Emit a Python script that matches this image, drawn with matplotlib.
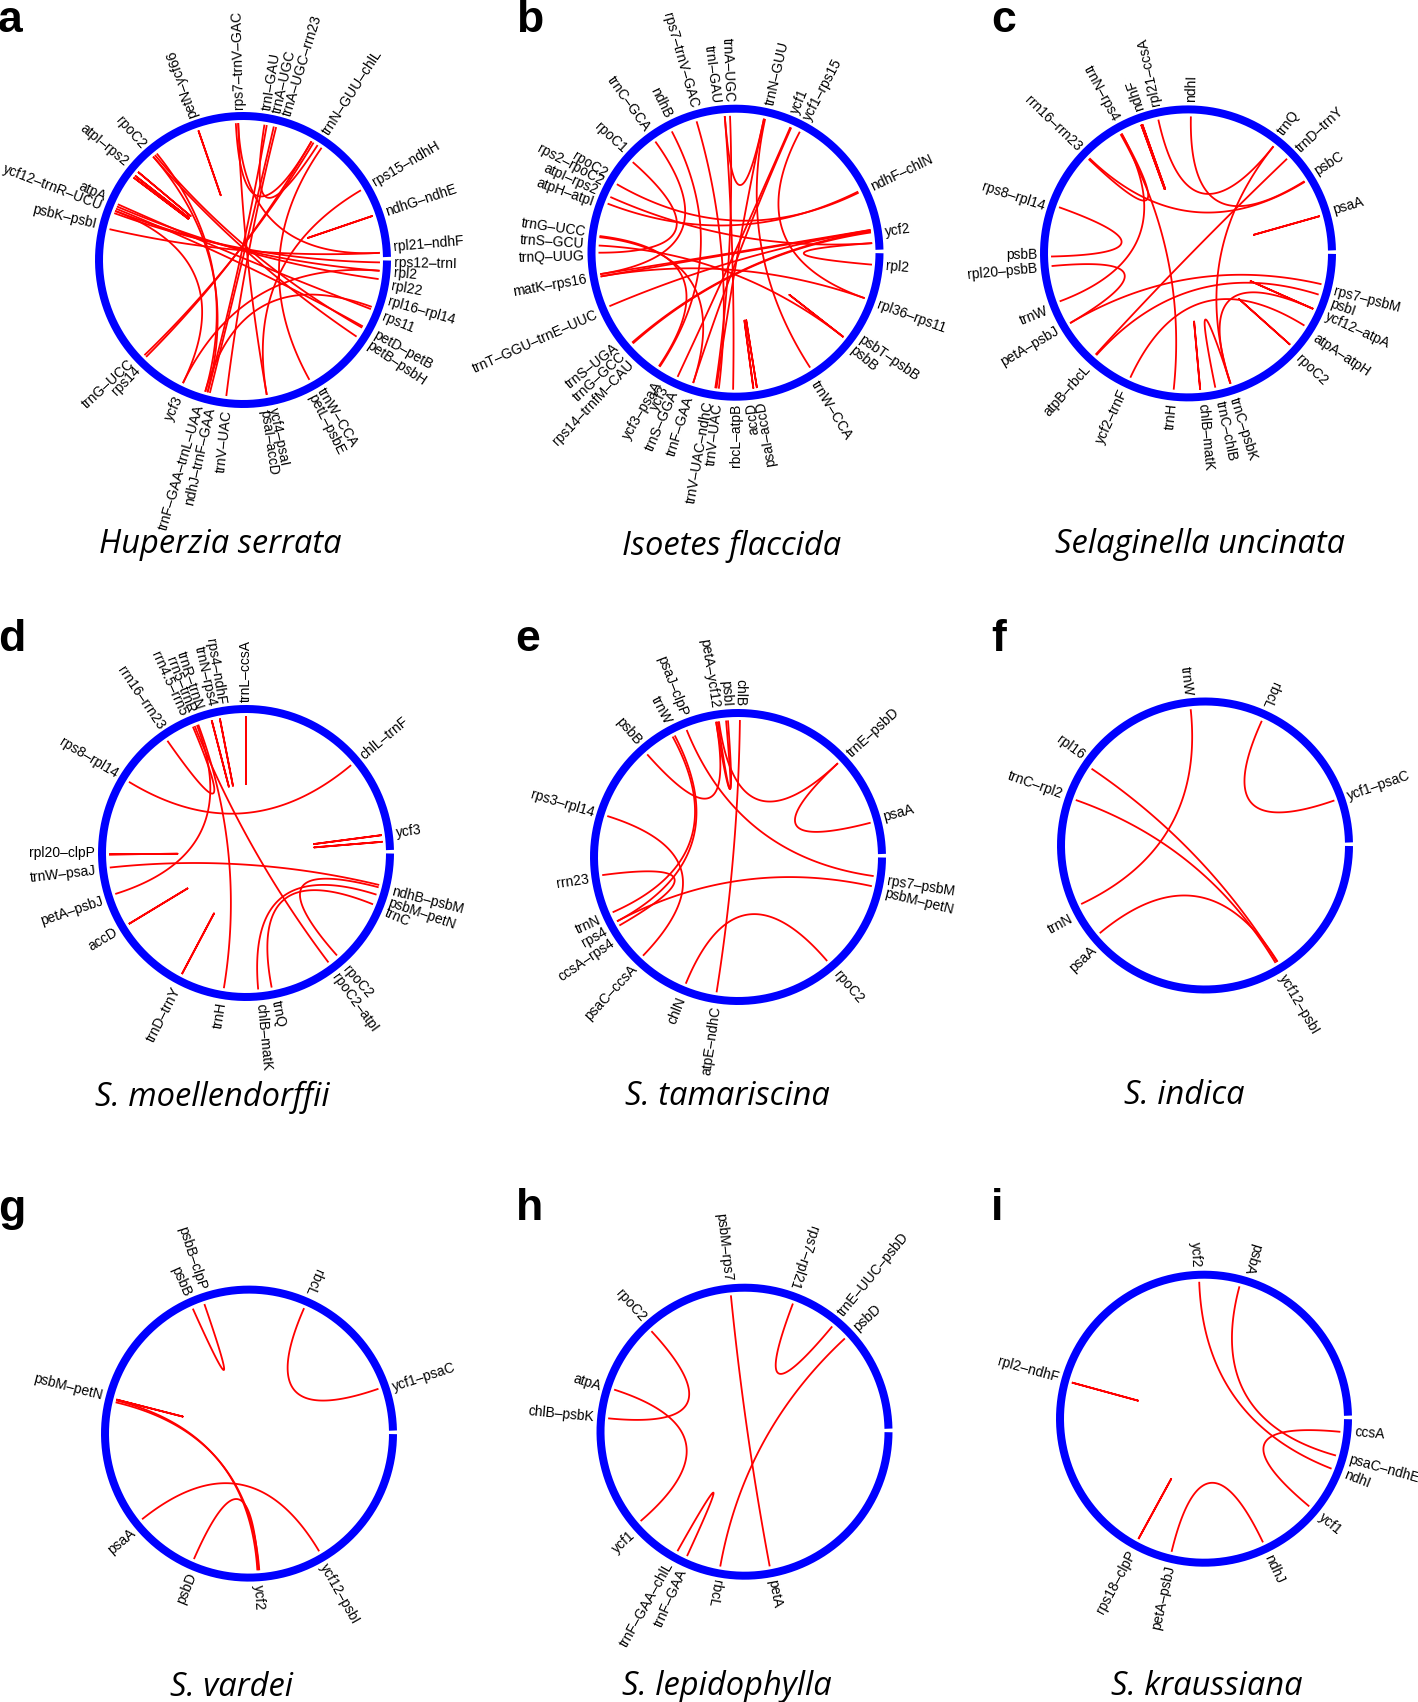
import numpy as np
import matplotlib
matplotlib.use("Agg")
import matplotlib.pyplot as plt

W, H, DPI = 1418, 1702, 100

# ---------------- data ----------------
TITLES = ["Huperzia serrata", "Isoetes flaccida", "Selaginella uncinata",
          "S. moellendorffii", "S. tamariscina", "S. indica",
          "S. vardei", "S. lepidophylla", "S. kraussiana"]
PANEL_LETTERS = ["a", "b", "c", "d", "e", "f", "g", "h", "i"]

# label names and their angular positions (degrees, counter-clockwise from 3 o'clock)
A_LABELS = ["petN–ycf66", "rps7–trnV–GAC", "trnI–GAU", "trnA–UGC", "trnA–UGC–rrn23",
            "trnN–GUU–chlL", "rps15–ndhH", "ndhG–ndhE", "rpl21–ndhF", "rps12–trnI",
            "rpl2", "rpl22", "rpl16–rpl14", "rps11", "petD–petB", "petB–psbH",
            "trnW–CCA", "petL–psbE", "ycf4–psaI", "psaI–accD", "trnV–UAC",
            "ndhJ–trnF–GAA", "trnF–GAA–trnL–UAA", "ycf3", "rps14", "trnG–UCC",
            "psbK–psbI", "ycf12–trnR–UCU", "atpA", "atpI–rps2", "rpoC2"]
A_DEG = [109, 91.5, 81, 77, 73, 57, 30.5, 18.5, 5, -1, -5, -10, -16, -22, -29.5, -34,
         -59, -63, -78.5, -82, -96, -102.5, -106.5, -115, -134, -137.5,
         166.5, 159, 155.5, 140.5, 131.5]
A_LINKS = [(109, 109), (93, 60), (92, 3), (81, 57), (80, -105), (77, -104), (76, -97),
           (60, -135), (59, -136), (55, -61), (30.6, -80), (18.8, 18.8),
           (167, 3), (160, -1), (159, -4.5), (157, -8), (156, -21), (158, -29),
           (159, -116), (130, -29.6), (131, -34), (131, -105), (129, -106),
           (140, 140), (142, 142), (143, 143), (-116, -4.5), (-106, -20), (92, -80)]

B_LABELS = ["trnN–GUU", "ycf1", "ycf1–rps15", "ndhF–chlN", "ycf2", "rpl2", "rpl36–rps11",
            "psbT–psbB", "psbB", "trnW–CCA", "psaI–accD", "accD", "rbcL–atpB", "trnV–UAC",
            "trnV–UAC–ndhC", "trnF–GAA", "trnS–GGA", "ycf3", "ycf3–psaA",
            "rps14–trnfM–CAU", "trnG–GCC", "trnS–UGA", "trnT–GGU–trnE–UUC", "matK–rps16",
            "trnQ–UUG", "trnS–GCU", "trnG–UCC", "atpH–atpI", "atpI–rps2", "rps2–rpoC2",
            "rpoC2", "rpoC1", "trnC–GCA", "ndhB", "rps7–trnV–GAC", "trnI–GAU", "trnA–UGC"]
B_DEG = [77, 67, 62, 25.5, 8, -5, -20, -34.5, -39.5, -58.5, -80.5, -84, -90, -96.5,
         -100, -107.5, -113.5, -117.5, -120.5, -133.5, -137.5, -141.5, -156, -170,
         -178.5, 176.5, 172, 160.5, 156, 152, 149, 137.5, 125.5, 116.5, 106, 97.2, 92.2]
B_LINKS = [(26, 150), (26.5, 159), (9.6, -171), (9.2, -170), (9, -139), (8.5, -138.5),
           (4, -5), (62, -19.4), (66.4, -115), (66, -108), (94.5, 78), (78, -98),
           (77.5, -57), (94.5, -91), (92.3, -98.5), (106.5, -97), (125.8, -171),
           (177, -38), (173, -124), (173.5, -108), (-157, 9.5), (-38, -38), (-81, -81),
           (-82.5, -82.5), (138.6, 180), (156, 4), (-170, -19.4), (117.7, -123.6)]

C_LABELS = ["ndhI", "rpl21–ccsA", "ndhF", "trnN–rps4", "rrn16–rrn23", "rps8–rpl14", "psbB",
            "rpl20–psbB", "trnW", "petA–psbJ", "atpB–rbcL", "ycf2–trnF", "trnH", "chlB–matK",
            "trnC–chlB", "trnC–psbK", "rpoC2", "atpA–atpH", "ycf12–atpA", "psbI",
            "rps7–psbM", "psaA", "psbC", "trnD–trnY", "trnQ"]
C_DEG = [89, 102, 108.5, 118.5, 136, 162, 180.5, -174.5, -158, -149.5, -131.5, -115, -96,
         -84.5, -78, -72.5, -43.5, -33.5, -24.5, -19.5, -14.5, 16.5, 32.5, 43, 52.5]
C_LINKS = [(88.8, 31.8), (136, 31.5), (136.5, 119), (119, -159.5), (119.5, -96),
           (109.5, 109.5), (110, 110), (102.5, 51.4), (51.4, -71.9), (43.7, -132.4),
           (15.8, 15.8), (160.3, 181.3), (-174.7, -149.4), (-149.4, -13), (-132, -17.5),
           (-114.9, -31.8), (-84.9, -84.9), (-78.5, -71.9), (-72, -23.9), (-41.8, -41.8),
           (-23.9, -23.9)]

D_LABELS = ["trnL–ccsA", "rps4–ndhF", "trnN–rps4", "trnR–trnN", "rrn5–trnR", "rrn4.5–rrn5",
            "rrn16–rrn23", "rps8–rpl14", "rpl20–clpP", "trnW–psaJ", "petA–psbJ", "accD",
            "trnD–trnY", "trnH", "chlB–matK", "trnQ", "rpoC2", "rpoC2–atpI", "trnC",
            "psbM–petN", "ndhB–psbM", "ycf3", "chlL–trnF"]
D_DEG = [90, 99.5, 102.8, 108, 111.4, 114.6, 124.2, 149, 180, -173.5, -161.5, -148.8,
         -117, -99.2, -84.5, -78.5, -49, -54, -23, -19, -14.5, 7.5, 39.7]
D_LINKS = [(90, 90), (101, 101), (104.5, 104.5), (125, 112.8), (112, -53), (110.4, -99.3),
           (111, -162.6), (148.7, 39.9), (180.6, 180.6), (-173.9, -13.5),
           (-148.8, -148.8), (-117.9, -117.9), (7.5, 7.5), (4.7, 4.7), (-84.9, -17.7),
           (-79.2, -22), (-48.4, -14.5)]

E_LABELS = ["chlB", "psbI", "petA–ycf12", "psaJ–clpP", "trnW", "psbB", "rps3–rpl14", "rrn23",
            "trnN", "rps4", "ccsA–rps4", "psaC–ccsA", "chlN", "atpE–ndhC", "rpoC2",
            "psbM–petN", "rps7–psbM", "psaA", "trnE–psbD"]
E_DEG = [89.2, 94.3, 98.8, 111.2, 117.7, 131, 163.3, -171.5, -155.7, -150.8, -145.8,
         -133, -111.7, -98.2, -49.6, -13.9, -9, 15.3, 42.6]
E_LINKS = [(89.2, -99), (94.2, 99.2), (95, 98.5), (99.2, 131.5), (112, -8),
           (118.5, -156.2), (117.5, -152), (98, 43.2), (43.2, 14.5), (162.6, -133.9),
           (-172.4, -150), (-152, -12.3), (-112.4, -49.4)]

F_LABELS = ["trnW", "rbcL", "ycf1–psaC", "ycf12–psbI", "psaA", "trnN", "trnC–rpl2", "rpl16"]
F_DEG = [96.5, 66.5, 19, -59.5, -137, -151.5, 160.5, 144]
F_LINKS = [(96, -154.7), (65.5, 19.2), (145.9, -58.3), (160.6, -59), (-140.2, -58)]

G_LABELS = ["psbB–clpP", "psbB", "rbcL", "ycf1–psaC", "ycf12–psbI", "ycf2", "psbD", "psaA",
            "psbM–petN"]
G_DEG = [108, 114, 67, 18, -60.5, -86.5, -112, -139.7, 165.6]
G_LINKS = [(114.2, 109), (66.3, 19.1), (165.6, 165.6), (166, -86.5), (166.8, -85.7),
           (-141.3, -59.2), (-113.7, -86)]

H_LABELS = ["psbM–rps7", "rps7–rpl21", "trnE–UUC–psbD", "psbD", "rpoC2", "atpA", "chlB–psbK",
            "ycf1", "trnF–GAA–chlL", "trnF–GAA", "rbcL", "petA"]
H_DEG = [96.3, 71.5, 50.6, 42.7, 132, 162.6, 174.6, -137.4, -119.4, -114, -100.6, -79.5]
H_LINKS = [(95.7, -79.4), (69.3, 50.2), (42.9, -100.2), (132.8, 174.4), (162.1, -139.3),
           (-119.3, -114.8)]

I_LABELS = ["ycf2", "psbA", "ccsA", "psaC–ndhE", "ndhI", "ycf1", "ndhJ", "petA–psbJ",
            "rps18–clpP", "rpl2–ndhF"]
I_DEG = [92.8, 73, -5, -15.6, -21.5, -39.8, -65, -102.6, -118.2, 164.5]
I_LINKS = [(164.7, 164.7), (92, -21.4), (75, -15.6), (-5.5, -39.8), (-118.6, -118.6),
           (-103.7, -64.5)]

PANEL_DATA = [(A_LABELS, A_DEG, A_LINKS), (B_LABELS, B_DEG, B_LINKS),
              (C_LABELS, C_DEG, C_LINKS), (D_LABELS, D_DEG, D_LINKS),
              (E_LABELS, E_DEG, E_LINKS), (F_LABELS, F_DEG, F_LINKS),
              (G_LABELS, G_DEG, G_LINKS), (H_LABELS, H_DEG, H_LINKS),
              (I_LABELS, I_DEG, I_LINKS)]

# ---------------- layout (pixels) ----------------
CENTERS = [(243, 260), (735.5, 252.7), (1188, 253.4),
           (246, 853), (738, 857), (1205, 845.5),
           (249, 1433.6), (744.5, 1431.7), (1204, 1418.7)]
FLIP = [(120, 272), (86, 290), (113, 270), (94, 270), (80, 285),
        (45, 270), (45, 260), (60, 252), (60, 270)]
TITLE_POS = [(220, 553), (732, 555), (1200, 553),
             (212, 1106), (727, 1105), (1184, 1104),
             (232, 1696), (727, 1695), (1207, 1695)]
LETTER_POS = [(-2, 32), (516, 32), (991, 32),
              (-2, 651), (515, 651), (991, 651),
              (-2, 1221), (516, 1220), (991, 1220)]

R_RING, RING_W = 144, 8
R_LINK, R_LABEL = 137, 151
PX = 72.0 / DPI

fig = plt.figure(figsize=(W / DPI, H / DPI), dpi=DPI)
ax = fig.add_axes([0, 0, 1, 1])
ax.set_xlim(0, W)
ax.set_ylim(H, 0)
ax.axis("off")


def polar(cx, cy, r, deg):
    t = np.deg2rad(deg)
    return cx + r * np.cos(t), cy - r * np.sin(t)


for k, (labels, degs, links) in enumerate(PANEL_DATA):
    cx, cy = CENTERS[k]
    # ring with small gap at 3 o'clock
    th = np.linspace(1.2, 359.8, 900)
    rx, ry = polar(cx, cy, R_RING, th)
    ax.plot(rx, ry, color="#0000ff", lw=RING_W * PX, solid_capstyle="butt", zorder=3)
    # links: quadratic bezier through the centre
    t = np.linspace(0, 1, 120)[:, None]
    c = np.array([cx, cy])
    for a1, a2 in links:
        p0 = np.array(polar(cx, cy, R_LINK, a1))
        p2 = np.array(polar(cx, cy, R_LINK, a2))
        b = (1 - t) ** 2 * p0 + 2 * t * (1 - t) * c + t ** 2 * p2
        ax.plot(b[:, 0], b[:, 1], color="#ff0000", lw=1.3, zorder=2,
                solid_capstyle="butt")
    # labels
    lo, hi = FLIP[k]
    for name, deg in zip(labels, degs):
        d = deg % 360
        x, y = polar(cx, cy, R_LABEL, deg)
        if lo < d < hi:
            rot, ha = d - 180, "right"
        else:
            rot, ha = d, "left"
        ax.text(x, y, name, rotation=rot, rotation_mode="anchor", ha=ha, va="center",
                fontsize=10, family=["Liberation Sans", "DejaVu Sans"], zorder=4)
    # title and panel letter
    tx, ty = TITLE_POS[k]
    ax.text(tx, ty, TITLES[k], ha="center", va="baseline", fontsize=23.5,
            style="italic", family=["Open Sans", "DejaVu Sans"])
    lx, ly = LETTER_POS[k]
    ax.text(lx, ly, PANEL_LETTERS[k], ha="left", va="baseline", fontsize=32,
            weight="bold", family=["Liberation Sans", "DejaVu Sans"])

fig.savefig("out.png", dpi=DPI)
